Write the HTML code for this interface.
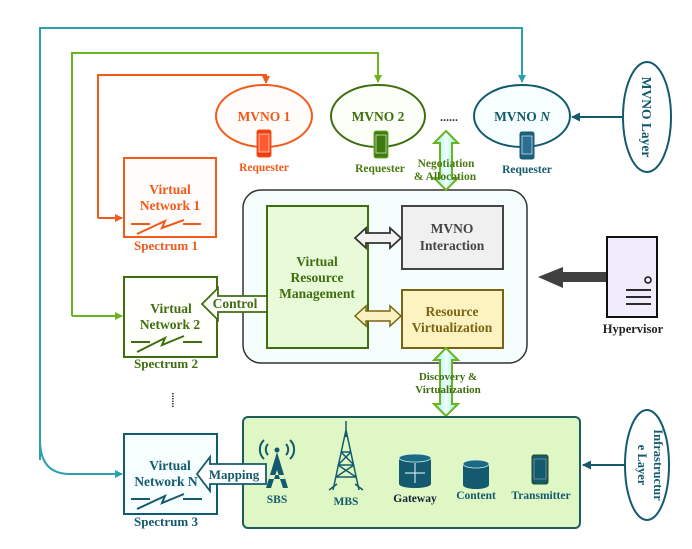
<!DOCTYPE html>
<html><head><meta charset="utf-8"><style>
html,body{margin:0;padding:0;background:#fff;}
svg{display:block;font-family:"Liberation Serif",serif;font-weight:bold;}
</style></head><body>
<svg width="692" height="549" viewBox="0 0 692 549" xmlns="http://www.w3.org/2000/svg">
<defs>
<marker id="mo" markerWidth="8" markerHeight="8" refX="7" refY="4" orient="auto" markerUnits="userSpaceOnUse"><path d="M0,0 L8,4 L0,8 z" fill="#f05a1a"/></marker>
<marker id="mg" markerWidth="8" markerHeight="8" refX="7" refY="4" orient="auto" markerUnits="userSpaceOnUse"><path d="M0,0 L8,4 L0,8 z" fill="#6ab420"/></marker>
<marker id="mt" markerWidth="8" markerHeight="8" refX="7" refY="4" orient="auto" markerUnits="userSpaceOnUse"><path d="M0,0 L8,4 L0,8 z" fill="#2aa0b0"/></marker>
<marker id="md" markerWidth="9" markerHeight="9" refX="8" refY="4.5" orient="auto" markerUnits="userSpaceOnUse"><path d="M0,0 L9,4.5 L0,9 z" fill="#135a6e"/></marker>
<linearGradient id="cy" x1="0" y1="0" x2="1" y2="0"><stop offset="0" stop-color="#8ee8e0"/><stop offset=".5" stop-color="#f0fffe"/><stop offset="1" stop-color="#8ee8e0"/></linearGradient>
</defs>

<path d="M40,460 L40,28 L522,28 L522,82" fill="none" stroke="#2aa0b0" stroke-width="2" marker-end="url(#mt)"/>
<path d="M40,440 Q40,474 70,474 L122,474" fill="none" stroke="#2aa0b0" stroke-width="2" marker-end="url(#mt)"/>
<path d="M72,316 L72,53 L378,53 L378,82" fill="none" stroke="#6ab420" stroke-width="2" marker-end="url(#mg)"/>
<path d="M72,316 L122,316" fill="none" stroke="#6ab420" stroke-width="2" marker-end="url(#mg)"/>
<path d="M98,218 L98,75 L266,75 L266,83" fill="none" stroke="#f05a1a" stroke-width="2" marker-end="url(#mo)"/>
<path d="M98,218 L122,218" fill="none" stroke="#f05a1a" stroke-width="2" marker-end="url(#mo)"/>

<ellipse cx="264" cy="116" rx="48" ry="31" fill="#fffcfa" stroke="#f05a1a" stroke-width="2"/>
<text x="264" y="121" text-anchor="middle" font-size="13.5" fill="#f05a1a">MVNO 1</text>
<rect x="257" y="130" width="14" height="27" rx="2" fill="#f03a10" stroke="#f05a1a"/>
<rect x="259" y="134" width="10" height="18" fill="#ff5a30" stroke="#fff" stroke-width=".6"/>
<text x="264" y="171" text-anchor="middle" font-size="11.5" fill="#f05a1a">Requester</text>

<ellipse cx="378" cy="116" rx="47" ry="31" fill="#fbfff8" stroke="#3f6e10" stroke-width="2"/>
<text x="378" y="121" text-anchor="middle" font-size="13.5" fill="#3f6e10">MVNO 2</text>
<rect x="374" y="131" width="14" height="27" rx="2" fill="#3f7a10" stroke="#6ab420"/>
<rect x="376" y="135" width="10" height="18" fill="#3f7a10" stroke="#fff" stroke-width=".6"/>
<text x="380" y="172" text-anchor="middle" font-size="11.5" fill="#4a7a10">Requester</text>

<text x="449" y="121" text-anchor="middle" font-size="12" fill="#333">......</text>

<ellipse cx="522" cy="116" rx="48" ry="31" fill="#f6feff" stroke="#135a6e" stroke-width="2"/>
<text x="522" y="121" text-anchor="middle" font-size="13.5" fill="#135a6e">MVNO <tspan font-style="italic">N</tspan></text>
<rect x="520" y="132" width="14" height="27" rx="2" fill="#1f5f80" stroke="#135a6e"/>
<rect x="522" y="136" width="10" height="18" fill="#2a6e90" stroke="#fff" stroke-width=".6"/>
<text x="527" y="173" text-anchor="middle" font-size="11.5" fill="#135a6e">Requester</text>

<ellipse cx="647" cy="117" rx="24" ry="55" fill="#fff" stroke="#135a6e" stroke-width="2"/>
<text transform="translate(642,117) rotate(90)" text-anchor="middle" font-size="13.5" fill="#135a6e">MVNO Layer</text>
<path d="M622,117 L572,117" stroke="#135a6e" stroke-width="2" marker-end="url(#md)"/>

<rect x="124" y="158" width="92" height="79" fill="#fffcfa" stroke="#f05a1a" stroke-width="2"/>
<text x="170" y="194" text-anchor="middle" font-size="13.5" fill="#f05a1a">Virtual</text>
<text x="170" y="210" text-anchor="middle" font-size="13.5" fill="#f05a1a">Network 1</text>
<path d="M131,224 L150,224 M183,224 L201,224 M137,234 L165,221 L162,228 L184,220" stroke="#f05a1a" stroke-width="2" fill="none"/>
<text x="166" y="250" text-anchor="middle" font-size="13" fill="#f05a1a">Spectrum 1</text>

<rect x="124" y="277" width="93" height="80" fill="#fffffb" stroke="#3f6e10" stroke-width="2"/>
<text x="171" y="313" text-anchor="middle" font-size="13.5" fill="#3f6e10">Virtual</text>
<text x="170" y="329" text-anchor="middle" font-size="13.5" fill="#3f6e10">Network 2</text>
<path d="M131,342 L150,342 M183,342 L202,342 M137,352 L165,338 L162,345 L184,336" stroke="#3f6e10" stroke-width="2" fill="none"/>
<text x="166" y="368" text-anchor="middle" font-size="13" fill="#3f6e10">Spectrum 2</text>

<text x="172" y="400" text-anchor="middle" font-size="10" fill="#333" transform="rotate(90 172 400)">......</text>

<rect x="124" y="434" width="93" height="80" fill="#f6feff" stroke="#135a6e" stroke-width="2"/>
<text x="170" y="470" text-anchor="middle" font-size="13.5" fill="#135a6e">Virtual</text>
<text x="166" y="486" text-anchor="middle" font-size="13.5" fill="#135a6e">Network N</text>
<path d="M131,499 L150,499 M183,499 L202,499 M137,509 L165,496 L162,503 L184,494" stroke="#135a6e" stroke-width="2" fill="none"/>
<text x="166" y="526" text-anchor="middle" font-size="13" fill="#135a6e">Spectrum 3</text>

<rect x="243" y="190" width="284" height="173" rx="18" fill="#f5fdfd" stroke="#333" stroke-width="1.5"/>
<rect x="267" y="206" width="101" height="142" fill="#e8fad8" stroke="#3f6e10" stroke-width="2"/>
<text x="317" y="266" text-anchor="middle" font-size="13.5" fill="#3f6e10">Virtual</text>
<text x="317" y="282" text-anchor="middle" font-size="13.5" fill="#3f6e10">Resource</text>
<text x="317" y="298" text-anchor="middle" font-size="13.5" fill="#3f6e10">Management</text>
<rect x="402" y="206" width="101" height="63" fill="#f0f0f0" stroke="#444" stroke-width="2"/>
<text x="452" y="233" text-anchor="middle" font-size="13.5" fill="#444">MVNO</text>
<text x="452" y="250" text-anchor="middle" font-size="13.5" fill="#444">Interaction</text>
<rect x="402" y="290" width="101" height="58" fill="#fdf3c0" stroke="#7a6414" stroke-width="2"/>
<text x="452" y="316" text-anchor="middle" font-size="13.5" fill="#7a6414">Resource</text>
<text x="452" y="332" text-anchor="middle" font-size="13.5" fill="#7a6414">Virtualization</text>

<path d="M355,238 L366,228 L366,233 L390,233 L390,228 L401,238 L390,248 L390,243 L366,243 L366,248 Z" fill="#f2f2f2" stroke="#333" stroke-width="1.8"/>
<path d="M355,316 L366,306 L366,311 L390,311 L390,306 L401,316 L390,326 L390,321 L366,321 L366,326 Z" fill="#fbf0c0" stroke="#7a6414" stroke-width="1.5"/>

<path d="M267,296 L218,296 L218,288 L202,304 L218,320 L218,312 L267,312 Z" fill="#fff" stroke="#3f6e10" stroke-width="1.8"/>
<text x="235" y="308" text-anchor="middle" font-size="13.5" fill="#3f6e10">Control</text>

<path d="M446,131 L458,143 L452,143 L452,178 L458,178 L446,190 L434,178 L440,178 L440,143 L434,143 Z" fill="url(#cy)" stroke="#6ab420" stroke-width="2"/>
<text x="446" y="167" text-anchor="middle" font-size="11.5" fill="#4a7a10">Negotiation</text>
<text x="445" y="180" text-anchor="middle" font-size="11.5" fill="#4a7a10">&amp; Allocation</text>
<path d="M446,348 L458,360 L452,360 L452,404 L458,404 L446,416 L434,404 L440,404 L440,360 L434,360 Z" fill="url(#cy)" stroke="#6ab420" stroke-width="2"/>
<text x="448" y="380" text-anchor="middle" font-size="11" fill="#3f6e10">Discovery &amp;</text>
<text x="448" y="393" text-anchor="middle" font-size="11" fill="#3f6e10">Virtualization</text>

<path d="M607,272 L563,272 L563,267 L538,277 L563,288 L563,282 L607,282 Z" fill="#404040"/>
<rect x="607" y="237" width="50" height="80" fill="#f0ecfc" stroke="#111" stroke-width="2"/>
<circle cx="648" cy="280" r="3" fill="none" stroke="#111" stroke-width="1.5"/>
<path d="M626,290 L651,290 M626,297 L651,297 M626,304 L651,304" stroke="#111" stroke-width="1.8"/>
<text x="633" y="333" text-anchor="middle" font-size="12.5" fill="#222">Hypervisor</text>

<rect x="243" y="417" width="337" height="111" rx="5" fill="#dff7c4" stroke="#1f5c5c" stroke-width="2"/>
<path d="M266,464 L210,464 L210,457 L197,474 L210,491 L210,484 L266,484 Z" fill="#fff" stroke="#135a6e" stroke-width="1.8"/>
<text x="234" y="479" text-anchor="middle" font-size="13" fill="#135a6e">Mapping</text>

<g fill="none" stroke="#135a6e" stroke-width="2">
<path d="M268,444 a8,8 0 0 0 0,11 M286,444 a8,8 0 0 1 0,11 M264,440 a13,13 0 0 0 0,19 M290,440 a13,13 0 0 1 0,19"/>
</g>
<circle cx="277" cy="450" r="2.5" fill="#135a6e"/>
<path d="M277,452 L266,488 L271,488 L277,470 L283,488 L288,488 Z M270,475 L284,475 L285,479 L269,479 Z" fill="#135a6e"/>
<text x="277" y="503" text-anchor="middle" font-size="11.5" fill="#135a6e">SBS</text>
<g stroke="#135a6e" stroke-width="1.5" fill="none">
<path d="M346,421 L346,437 M346,430 L333,490 M346,430 L359,490 M329,490 L337,484 M363,490 L355,484"/>
<path d="M341,452 L351,452 M338,465 L354,465 M336,477 L356,477 M341,452 L354,465 M351,452 L338,465 M338,465 L356,477 M354,465 L336,477"/>
</g>
<text x="346" y="505" text-anchor="middle" font-size="11.5" fill="#135a6e">MBS</text>
<rect x="399" y="458" width="32" height="26" fill="#135a6e"/>
<ellipse cx="415" cy="458" rx="16" ry="4" fill="#1a6a85" stroke="#e0f0f0" stroke-width=".8"/>
<ellipse cx="415" cy="484" rx="16" ry="4" fill="#135a6e"/>
<g stroke="#cde" stroke-width="1.2"><path d="M415,463 L415,483 M405,473 L425,473"/></g>
<text x="415" y="502" text-anchor="middle" font-size="11.5" fill="#123">Gateway</text>
<rect x="463" y="464" width="26" height="21" fill="#135a6e"/>
<ellipse cx="476" cy="464" rx="13" ry="4" fill="#1a6a85" stroke="#e0f0f0" stroke-width=".8"/>
<ellipse cx="476" cy="485" rx="13" ry="4" fill="#135a6e"/>
<text x="476" y="499" text-anchor="middle" font-size="11.5" fill="#135a6e">Content</text>
<rect x="532" y="455" width="16" height="29" rx="2" fill="#135a6e" stroke="#2a4a20" stroke-width="1"/>
<rect x="534" y="459" width="12" height="20" fill="#135a6e" stroke="#9ab" stroke-width=".6"/>
<text x="541" y="499" text-anchor="middle" font-size="11.5" fill="#135a6e">Transmitter</text>

<ellipse cx="647" cy="465" rx="22" ry="55" fill="#fff" stroke="#135a6e" stroke-width="2"/>
<text transform="translate(654,465) rotate(90)" text-anchor="middle" font-size="12.5" fill="#135a6e">Infrastructur</text>
<text transform="translate(638,465) rotate(90)" text-anchor="middle" font-size="12.5" fill="#135a6e">e Layer</text>
<path d="M624,465 L583,465" stroke="#135a6e" stroke-width="2" marker-end="url(#md)"/>
</svg>
</body></html>
